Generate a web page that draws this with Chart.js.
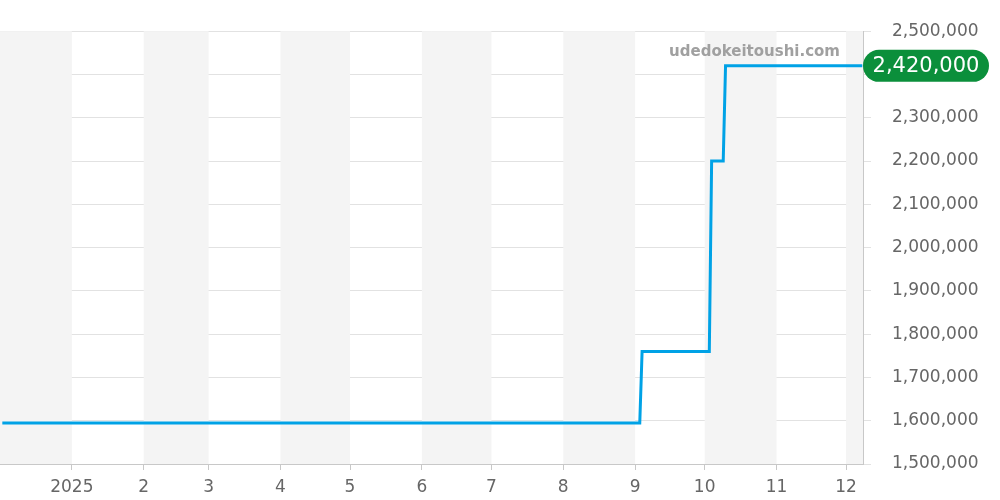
<!DOCTYPE html>
<html>
<head>
<meta charset="utf-8">
<script src="https://cdn.jsdelivr.net/npm/chart.js@4"></script>
<style>
  html, body { margin: 0; padding: 0; background: #fff; }
  #wrap { width: 1000px; height: 500px; }
</style>
</head>
<body>
<div id="wrap"><canvas id="priceChart" width="1000" height="500"></canvas></div>
<script>
// Days counted from 2024-12-01
const monthStartDays = [0, 31, 62, 90, 121, 151, 182, 212, 243, 274, 304, 335, 365];
const monthLabels = ['', '2025', '2', '3', '4', '5', '6', '7', '8', '9', '10', '11', '12'];

// Price history (yen)
const pointDays = [1, 276, 277, 306, 307, 312, 313, 372];
const prices = [1595000, 1595000, 1760000, 1760000, 2200000, 2200000, 2420000, 2420000];

const yTicks = [1500000, 1600000, 1700000, 1800000, 1900000, 2000000, 2100000, 2200000, 2300000, 2400000, 2500000];

const fmt = v => v.toLocaleString('en-US');

// grey bands on every other month
const monthBands = {
  id: 'monthBands',
  beforeDatasetsDraw(chart) {
    const { ctx, chartArea, scales } = chart;
    const x = scales.x;
    ctx.save();
    ctx.fillStyle = '#f4f4f4';
    for (let i = 0; i < monthStartDays.length; i += 2) {
      const x0 = Math.max(x.getPixelForValue(monthStartDays[i]), chartArea.left);
      const end = i + 1 < monthStartDays.length ? monthStartDays[i + 1] : x.max;
      const x1 = Math.min(x.getPixelForValue(end), chartArea.right);
      ctx.fillRect(x0, chartArea.top, x1 - x0, chartArea.bottom - chartArea.top);
    }
    ctx.restore();
  }
};

// watermark + last price badge
const overlay = {
  id: 'overlay',
  afterDraw(chart) {
    const { ctx, chartArea, scales } = chart;
    ctx.save();
    ctx.font = 'bold 15px "DejaVu Sans"';
    ctx.fillStyle = '#a0a0a0';
    ctx.textAlign = 'right';
    ctx.textBaseline = 'middle';
    ctx.fillText('udedokeitoushi.com', 840, 52);

    const last = prices[prices.length - 1];
    const y = scales.y.getPixelForValue(last);
    const left = chartArea.right, w = 126, h = 32, r = 16;
    ctx.fillStyle = '#0b8f3b';
    ctx.beginPath();
    ctx.roundRect(left, y - h / 2, w, h, r);
    ctx.fill();
    ctx.fillStyle = '#ffffff';
    ctx.font = '21px "DejaVu Sans"';
    ctx.textAlign = 'center';
    ctx.fillText(fmt(last), left + w / 2, y + 1);
    ctx.restore();
  }
};

new Chart(document.getElementById('priceChart'), {
  type: 'line',
  data: {
    datasets: [{
      data: pointDays.map((d, i) => ({ x: d, y: prices[i] })),
      borderColor: '#00a2e6',
      borderWidth: 3,
      pointRadius: 0,
      tension: 0,
      fill: false
    }]
  },
  options: {
    responsive: false,
    animation: false,
    layout: { padding: { top: 31, left: 0, right: 0, bottom: 0 } },
    plugins: { legend: { display: false }, tooltip: { enabled: false } },
    scales: {
      x: {
        type: 'linear',
        min: 0,
        max: 372.3,
        afterBuildTicks: s => { s.ticks = monthStartDays.slice(1).map(v => ({ value: v })); },
        afterFit: s => { s.height = 36; },
        ticks: {
          autoSkip: false,
          maxRotation: 0,
          padding: 7,
          color: '#666',
          font: { family: '"DejaVu Sans"', size: 17 },
          callback: v => monthLabels[monthStartDays.indexOf(v)]
        },
        grid: { drawOnChartArea: false, drawTicks: true, tickLength: 6, color: '#c8c8c8' },
        border: { color: '#c8c8c8' }
      },
      y: {
        position: 'right',
        min: 1500000,
        max: 2500000,
        afterBuildTicks: s => { s.ticks = yTicks.map(v => ({ value: v })); },
        afterFit: s => { s.width = 137; },
        ticks: {
          padding: 21,
          color: '#666',
          font: { family: '"DejaVu Sans"', size: 17 },
          callback: v => fmt(v)
        },
        grid: { color: '#e2e2e2', tickLength: 8 },
        border: { color: '#c8c8c8' }
      }
    }
  },
  plugins: [monthBands, overlay]
});
</script>
</body>
</html>
